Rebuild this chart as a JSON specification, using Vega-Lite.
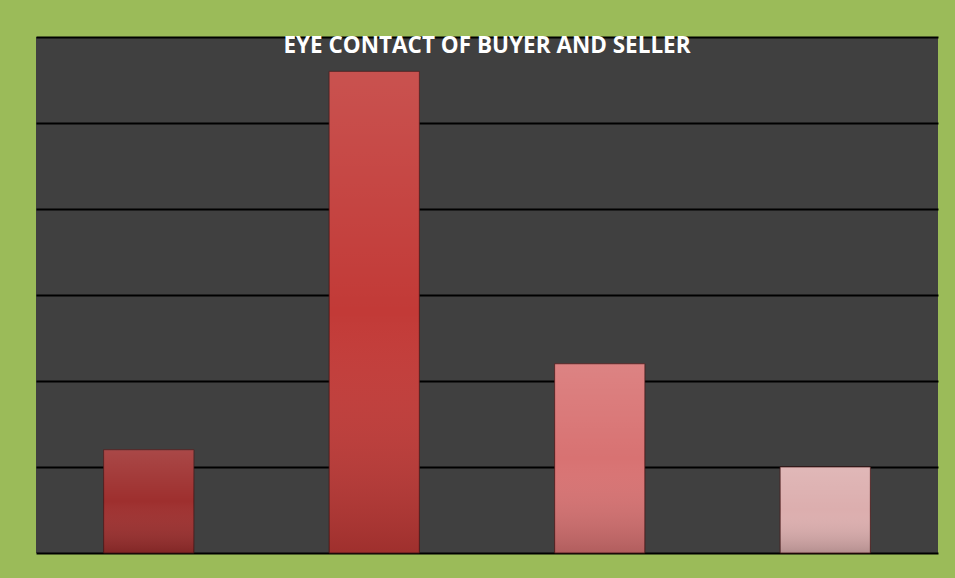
{
  "$schema": "https://vega.github.io/schema/vega-lite/v6.json",
  "width": 902,
  "height": 516,
  "autosize": {"type": "none"},
  "padding": {"left": 36, "top": 37, "right": 17, "bottom": 25},
  "background": "#9BBB59",
  "title": {
    "text": "EYE CONTACT OF BUYER AND SELLER",
    "color": "#FFFFFF",
    "font": "Open Sans",
    "fontWeight": "bold",
    "fontSize": 22.5,
    "anchor": "middle",
    "baseline": "top",
    "offset": -20
  },
  "config": {
    "view": {"fill": "#404040", "stroke": null}
  },
  "data": {
    "values": [
      {"category": "Category 1", "value": 12},
      {"category": "Category 2", "value": 56},
      {"category": "Category 3", "value": 22},
      {"category": "Category 4", "value": 10}
    ]
  },
  "encoding": {
    "x": {
      "field": "category",
      "type": "nominal",
      "sort": null,
      "axis": null,
      "scale": {"paddingInner": 0.6, "paddingOuter": 0.3}
    },
    "y": {
      "field": "value",
      "type": "quantitative",
      "scale": {"domain": [0, 60], "nice": false},
      "axis": {
        "values": [0, 10, 20, 30, 40, 50, 60],
        "grid": true,
        "gridColor": "#000000",
        "gridWidth": 2,
        "gridOpacity": 1,
        "labels": false,
        "ticks": false,
        "domain": false,
        "title": null
      }
    }
  },
  "layer": [
    {
      "mark": {"type": "bar", "stroke": "#4A1515", "strokeWidth": 1, "strokeOpacity": 0.8},
      "encoding": {
        "color": {
          "field": "category",
          "type": "nominal",
          "sort": null,
          "legend": null,
          "scale": {"range": ["#9E2F2E", "#C23A37", "#D87272", "#DCAEAE"]}
        }
      }
    },
    {
      "mark": {
        "type": "bar",
        "fill": {
          "gradient": "linear",
          "x1": 0, "y1": 0, "x2": 0, "y2": 1,
          "stops": [
            {"offset": 0, "color": "rgba(255,255,255,0.12)"},
            {"offset": 0.5, "color": "rgba(255,255,255,0)"},
            {"offset": 1, "color": "rgba(0,0,0,0.18)"}
          ]
        }
      }
    }
  ]
}
